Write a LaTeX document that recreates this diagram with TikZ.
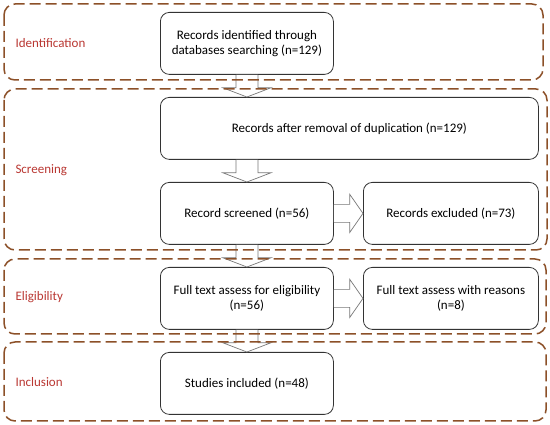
\documentclass[tikz,border=0pt]{standalone}
\usepackage{fontspec}
\setmainfont{Carlito}
\usepackage{tikz}
\usetikzlibrary{positioning,calc}
\definecolor{marco}{RGB}{140,80,40}
\definecolor{etiqueta}{RGB}{185,55,50}
\definecolor{flecha}{RGB}{120,120,120}

\begin{document}
\begin{tikzpicture}[x=1pt, y=-1pt,
  caja/.style={rectangle, draw=black!80, rounded corners=9pt, line width=0.8pt,
    minimum width=173pt, minimum height=62pt, align=center,
    font=\fontsize{13}{15.5}\selectfont},
  fase/.style={draw=marco, line width=1.5pt, dash pattern=on 11pt off 5pt,
    rounded corners=11pt},
  titulo/.style={font=\fontsize{13}{15.5}\selectfont, text=etiqueta, anchor=west},
  hueca/.style={draw=flecha, fill=white, line width=0.7pt, line join=miter},
]
\useasboundingbox (0,0) rectangle (550,425);

% cajas
\node[caja, anchor=north west] (ident) at (160,12) {Records identified through\\databases searching (n=129)};
\node[caja, anchor=north west, minimum width=378pt] (dup) at (160,97) {Records after removal of duplication (n=129)};
\node[caja, anchor=north west] (scr) at (160,182) {Record screened (n=56)};
\node[caja, anchor=north west, minimum width=175pt] (excl) at (363,182) {Records excluded (n=73)};
\node[caja, anchor=north west] (full) at (160,267) {Full text assess for eligibility\\(n=56)};
\node[caja, anchor=north west, minimum width=175pt] (razon) at (363,267) {Full text assess with reasons\\(n=8)};
\node[caja, anchor=north west] (incl) at (160,352) {Studies included (n=48)};
\coordinate (dupbajo) at (scr.north |- dup.south);

% flechas huecas hacia abajo
\foreach \a/\b in {ident.south/dup.north, dupbajo/scr.north, scr.south/full.north, full.south/incl.north} {
  \draw[hueca] ($(\a)+(-11,0)$) -- ($(\a)+(-11,13)$) -- ($(\a)+(-24,13)$)
    -- (\a |- \b) -- ($(\a)+(24,13)$) -- ($(\a)+(11,13)$) -- ($(\a)+(11,0)$);
}
% flechas huecas a la derecha
\foreach \a/\b in {scr/excl, full/razon} {
  \draw[hueca] ($(\a.east)+(0,-9)$) -- ($(\a.east)+(16,-9)$) -- ($(\a.east)+(16,-19)$)
    -- (\b.west) -- ($(\a.east)+(16,19)$) -- ($(\a.east)+(16,9)$) -- ($(\a.east)+(0,9)$);
}

% fases
\draw[fase] (4,4) rectangle (543,80);
\draw[fase] (4,89) rectangle (547,250);
\draw[fase] (4,259) rectangle (546,334);
\draw[fase] (4,342) rectangle (546,421);
\node[titulo] (tid) at (12,43) {Identification};
\node[titulo] (tsc) at (12,170) {Screening};
\node[titulo] (tel) at (12,297) {Eligibility};
\node[titulo] (tin) at (12,382) {Inclusion};
\end{tikzpicture}
\end{document}
